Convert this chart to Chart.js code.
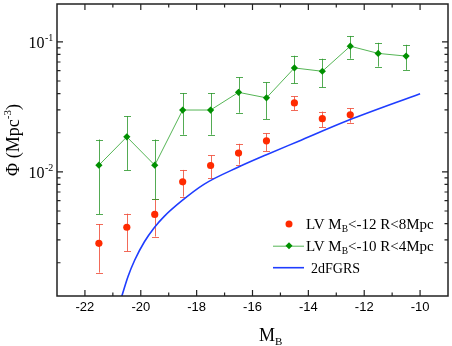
<!DOCTYPE html>
<html><head><meta charset="utf-8">
<script src="https://cdn.jsdelivr.net/npm/chart.js@4/dist/chart.umd.min.js"></script>
<style>html,body{margin:0;padding:0;background:#fff}</style>
</head><body>
<canvas id="c" width="452" height="346"></canvas>
<script>
// ---- data ----
const redMB   = [-21.5, -20.5, -19.5, -18.5, -17.5, -16.5, -15.5, -14.5, -13.5, -12.5];
const redPhi  = [0.00282, 0.00375, 0.00471, 0.00839, 0.01119, 0.01396, 0.01734, 0.0339, 0.02565, 0.02748];
const redHi   = [0.00397, 0.00477, 0.00617, 0.01035, 0.01339, 0.01644, 0.01983, 0.0381, 0.0291, 0.0309];
const redLo   = [0.00168, 0.00245, 0.00318, 0.00646, 0.00891, 0.01138, 0.01439, 0.0298, 0.0221, 0.0239];

const greenMB  = [-21.5, -20.5, -19.5, -18.5, -17.5, -16.5, -15.5, -14.5, -13.5, -12.5, -11.5, -10.5];
const greenPhi = [0.01125, 0.01859, 0.01125, 0.0299, 0.0299, 0.0409, 0.0371, 0.0630, 0.0594, 0.0926, 0.0815, 0.0777];
const greenHi  = [0.01774, 0.0268, 0.01774, 0.0404, 0.0404, 0.0532, 0.0487, 0.0782, 0.0742, 0.111, 0.0983, 0.0949];
const greenLo  = [0.00474, 0.0103, 0.00617, 0.0193, 0.0193, 0.0285, 0.0255, 0.0479, 0.0447, 0.0742, 0.0645, 0.0608];

const blueMB  = [-20.7, -20.46, -20.22, -19.87, -19.52, -19.16, -18.57, -17.74, -16.5, -15.5, -14.37, -12.59, -10];
const bluePhi = [0.00107, 0.00156, 0.00209, 0.00290, 0.00372, 0.00455, 0.0059, 0.00802, 0.0109, 0.01355, 0.01714, 0.0248, 0.0399];

const xTicks      = [-22, -20, -18, -16, -14, -12, -10];
const xMinorTicks = [-21, -19, -17, -15, -13, -11];
const yTicks      = [0.01, 0.1];
const yTickExp    = ['-2', '-1'];
const yMinorTicks = [0.002,0.003,0.004,0.005,0.006,0.007,0.008,0.009,0.02,0.03,0.04,0.05,0.06,0.07,0.08,0.09];

const legendNames = [['LV M','B','<-12 R<8Mpc'], ['LV M','B','<-10 R<4Mpc'], ['2dFGRS','','']];

const RED = '#ff2a00', RED_ERR = 'rgba(240,80,60,0.85)';
const GREEN = '#009000', GREEN_LINE = '#55b555', GREEN_ERR = 'rgba(40,150,40,0.8)';
const BLUE = '#1f3dff';
const SERIF = '"Liberation Serif", "Times New Roman", serif';
const SANS = '"Liberation Sans", Arial, sans-serif';

const toXY = (xs, ys) => xs.map((x, i) => ({x, y: ys[i]}));

const errs = [
  {ds: 0, xs: redMB, lo: redLo, hi: redHi, color: RED_ERR},
  {ds: 1, xs: greenMB, lo: greenLo, hi: greenHi, color: GREEN_ERR}
];

const ext = {
  id: 'ext',
  beforeDatasetsDraw(chart) {
    const {ctx, scales: {x, y}} = chart;
    ctx.save();
    ctx.lineWidth = 1;
    errs.forEach(e => {
      ctx.strokeStyle = e.color;
      e.xs.forEach((mx, i) => {
        const px = Math.round(x.getPixelForValue(mx)) + 0.5;
        const y1 = y.getPixelForValue(e.hi[i]);
        const y2 = y.getPixelForValue(e.lo[i]);
        ctx.beginPath();
        ctx.moveTo(px, y1); ctx.lineTo(px, y2);
        ctx.moveTo(px - 3.5, Math.round(y1) + 0.5); ctx.lineTo(px + 3.5, Math.round(y1) + 0.5);
        ctx.moveTo(px - 3.5, Math.round(y2) + 0.5); ctx.lineTo(px + 3.5, Math.round(y2) + 0.5);
        ctx.stroke();
      });
    });
    ctx.restore();
  },
  afterDraw(chart) {
    const {ctx, chartArea: a, scales: {x, y}} = chart;
    ctx.save();
    // frame
    ctx.strokeStyle = '#222';
    ctx.lineWidth = 1.5;
    ctx.strokeRect(a.left, a.top, a.right - a.left, a.bottom - a.top);
    ctx.lineWidth = 1.2;
    ctx.beginPath();
    const xt = (v, len) => {
      const px = x.getPixelForValue(v);
      ctx.moveTo(px, a.bottom); ctx.lineTo(px, a.bottom - len);
      ctx.moveTo(px, a.top); ctx.lineTo(px, a.top + len);
    };
    const yt = (v, len) => {
      const py = y.getPixelForValue(v);
      ctx.moveTo(a.left, py); ctx.lineTo(a.left + len, py);
      ctx.moveTo(a.right, py); ctx.lineTo(a.right - len, py);
    };
    xTicks.forEach(v => xt(v, 6));
    xMinorTicks.forEach(v => xt(v, 3.5));
    yTicks.forEach(v => yt(v, 6));
    yMinorTicks.forEach(v => yt(v, 3.5));
    ctx.stroke();

    // y tick labels 10^n
    ctx.fillStyle = '#000';
    yTicks.forEach((v, i) => {
      const py = y.getPixelForValue(v);
      ctx.font = '16px ' + SERIF;
      ctx.textAlign = 'right';
      ctx.textBaseline = 'alphabetic';
      ctx.fillText('10', 44.5, py + 6.3);
      ctx.font = '10px ' + SERIF;
      ctx.textAlign = 'left';
      ctx.fillText(yTickExp[i], 45, py - 0.5);
    });

    // y title
    ctx.save();
    ctx.translate(19, 140);
    ctx.rotate(-Math.PI / 2);
    ctx.textBaseline = 'alphabetic';
    ctx.textAlign = 'left';
    const f1 = '18px ' + SERIF, f2 = '11px ' + SERIF;
    ctx.font = f1; const w1 = ctx.measureText('\u03A6 (Mpc').width; const w3 = ctx.measureText(')').width;
    ctx.font = f2; const w2 = ctx.measureText('-3').width;
    let sx = -(w1 + w2 + w3) / 2;
    ctx.font = f1; ctx.fillText('\u03A6 (Mpc', sx, 0);
    ctx.font = f2; ctx.fillText('-3', sx + w1, -8);
    ctx.font = f1; ctx.fillText(')', sx + w1 + w2, 0);
    ctx.restore();

    // x title
    ctx.textAlign = 'left';
    ctx.textBaseline = 'alphabetic';
    ctx.font = '18px ' + SERIF;
    ctx.fillText('M', 259, 341);
    const mw = ctx.measureText('M').width;
    ctx.font = '11px ' + SERIF;
    ctx.fillText('B', 259 + mw, 345);

    // legend
    const rows = [224, 245.7, 267.7];
    const starts = [306, 306, 311];
    ctx.fillStyle = RED;
    ctx.beginPath(); ctx.arc(289, rows[0], 3.5, 0, Math.PI * 2); ctx.fill();
    ctx.strokeStyle = GREEN_LINE; ctx.lineWidth = 1;
    ctx.beginPath(); ctx.moveTo(273, rows[1] + 0.5); ctx.lineTo(304, rows[1] + 0.5); ctx.stroke();
    ctx.fillStyle = GREEN;
    ctx.beginPath(); ctx.moveTo(289, rows[1] - 3.5); ctx.lineTo(292.5, rows[1]); ctx.lineTo(289, rows[1] + 3.5); ctx.lineTo(285.5, rows[1]); ctx.closePath(); ctx.fill();
    ctx.strokeStyle = BLUE; ctx.lineWidth = 1.6;
    ctx.beginPath(); ctx.moveTo(273, rows[2]); ctx.lineTo(304, rows[2]); ctx.stroke();
    ctx.fillStyle = '#000';
    legendNames.forEach((p, i) => {
      const by = rows[i] + 4.8;
      let cx = starts[i];
      const big = p[1] ? '15px ' + SERIF : '14px ' + SERIF;
      ctx.font = big;
      ctx.fillText(p[0], cx, by); cx += ctx.measureText(p[0]).width;
      if (p[1]) {
        ctx.font = '9.5px ' + SERIF;
        ctx.fillText(p[1], cx, by + 3.5); cx += ctx.measureText(p[1]).width;
        ctx.font = big;
        ctx.fillText(p[2], cx, by);
      }
    });
    ctx.restore();
  }
};

new Chart(document.getElementById('c'), {
  type: 'line',
  data: {
    datasets: [
      {label: 'LV MB<-12 R<8Mpc', data: toXY(redMB, redPhi), showLine: false,
       pointStyle: 'circle', pointRadius: 3.6, pointBackgroundColor: RED, pointBorderWidth: 0, borderColor: RED},
      {label: 'LV MB<-10 R<4Mpc', data: toXY(greenMB, greenPhi), borderColor: GREEN_LINE, borderWidth: 1,
       pointStyle: 'rectRot', pointRadius: 3.6, pointBackgroundColor: GREEN, pointBorderWidth: 0, tension: 0},
      {label: '2dFGRS', data: toXY(blueMB, bluePhi), borderColor: BLUE, borderWidth: 1.6, pointRadius: 0,
       cubicInterpolationMode: 'monotone', clip: 0}
    ]
  },
  options: {
    responsive: false,
    animation: false,
    devicePixelRatio: 1,
    layout: {padding: {top: 1, right: 1, left: 0, bottom: 0}},
    plugins: {legend: {display: false}, tooltip: {enabled: false}},
    scales: {
      x: {
        type: 'linear', min: -23, max: -9,
        afterFit(s) { s.height = 50; },
        afterBuildTicks(s) { s.ticks = xTicks.map(v => ({value: v})); },
        grid: {display: false, drawTicks: false},
        border: {display: false},
        ticks: {font: {family: SANS, size: 13}, color: '#000', padding: 4, maxRotation: 0, autoSkip: false,
                callback: v => String(v)}
      },
      y: {
        type: 'logarithmic', min: 0.00111, max: 0.1955,
        afterFit(s) { s.width = 57; },
        grid: {display: false, drawTicks: false},
        border: {display: false},
        ticks: {display: false}
      }
    }
  },
  plugins: [ext]
});
</script>
</body></html>
